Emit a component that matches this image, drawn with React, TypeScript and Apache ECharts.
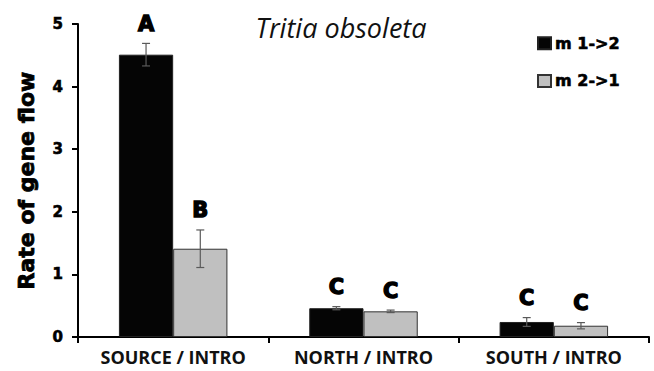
import React, { useEffect, useRef } from "react";
import * as echarts from "echarts";

const categories = ["SOURCE / INTRO", "NORTH / INTRO", "SOUTH / INTRO"];
const seriesNames = ["m 1->2", "m 2->1"];
const m12 = [4.51, 0.46, 0.24];
const m21 = [1.41, 0.41, 0.18];
const m12Err = [0.18, 0.025, 0.07];
const m21Err = [0.3, 0.02, 0.05];
const m12Letters = ["A", "C", "C"];
const m21Letters = ["B", "C", "C"];
const yTicks = [0, 1, 2, 3, 4, 5];

const BAR_FRAC = 0.285;

function errSeries(vals: number[], errs: number[], letters: string[], side: number) {
  return {
    type: "custom",
    z: 5,
    clip: false,
    data: vals.map((v, i) => [i, v, errs[i], letters[i]]),
    encode: { x: 0, y: 1 },
    renderItem: (params: any, api: any) => {
      const idx = api.value(0);
      const v = api.value(1);
      const e = api.value(2);
      const letter = letters[params.dataIndex];
      const catW = api.size([1, 0])[0];
      const bw = catW * BAR_FRAC;
      const c = api.coord([idx, v]);
      const x = c[0] + side * bw / 2;
      const top = api.coord([idx, v + e])[1];
      const bot = api.coord([idx, v - e])[1];
      const cap = 4;
      const st = { stroke: "#5a5a5a", lineWidth: 1.2 };
      return {
        type: "group",
        children: [
          { type: "line", shape: { x1: x, y1: top, x2: x, y2: bot }, style: st },
          { type: "line", shape: { x1: x - cap, y1: top, x2: x + cap, y2: top }, style: st },
          { type: "line", shape: { x1: x - cap, y1: bot, x2: x + cap, y2: bot }, style: st },
          {
            type: "text",
            x: x,
            y: top - 9,
            style: {
              text: letter,
              fill: "#000",
              stroke: "#000",
              lineWidth: 1.4,
              font: "bold 21px 'DejaVu Sans'",
              textAlign: "center",
              textVerticalAlign: "bottom",
            },
          },
        ],
      };
    },
  };
}

export default function App() {
  const ref = useRef<HTMLDivElement>(null);
  useEffect(() => {
    if (!ref.current) return;
    const chart = echarts.init(ref.current, null, { renderer: "svg" });
    chart.setOption({
      animation: false,
      backgroundColor: "#fff",
      title: {
        text: "Tritia obsoleta",
        left: 336,
        top: 9,
        textAlign: "center",
        textStyle: {
          fontFamily: "Open Sans",
          fontStyle: "italic",
          fontWeight: "normal",
          fontSize: 27,
          color: "#111",
        },
      },
      legend: {
        orient: "vertical",
        left: 537,
        top: 35,
        padding: 0,
        itemWidth: 13,
        itemHeight: 12,
        itemGap: 21,
        icon: "rect",
        data: seriesNames,
        textStyle: {
          fontFamily: "DejaVu Sans",
          fontWeight: "bold",
          fontSize: 16,
          lineHeight: 16,
          color: "#000",
          textBorderColor: "#000",
          textBorderWidth: 0.6,
          padding: [0, 0, 0, -1],
        },
      },
      grid: { left: 78, right: 5, top: 24, bottom: 34 },
      xAxis: {
        type: "category",
        data: categories,
        axisLine: { lineStyle: { color: "#000", width: 2 } },
        axisTick: { show: true, length: 6, alignWithLabel: false, lineStyle: { color: "#000", width: 2 } },
        axisLabel: {
          margin: 11,
          fontFamily: "Open Sans",
          fontWeight: "bold",
          fontSize: 18,
          color: "#111",
        },
      },
      yAxis: {
        type: "value",
        min: yTicks[0],
        max: yTicks[yTicks.length - 1],
        interval: 1,
        name: "Rate of gene flow",
        nameLocation: "middle",
        nameGap: 41,
        nameTextStyle: {
          fontFamily: "DejaVu Sans",
          fontWeight: "bold",
          fontSize: 22,
          color: "#000",
          textBorderColor: "#000",
          textBorderWidth: 0.8,
        },
        splitLine: { show: false },
        axisLine: { show: true, lineStyle: { color: "#000", width: 2 } },
        axisTick: { show: true, length: 6, lineStyle: { color: "#000", width: 2 } },
        axisLabel: {
          margin: 15,
          fontFamily: "DejaVu Sans",
          fontWeight: "bold",
          fontSize: 15,
          color: "#000",
          textBorderColor: "#000",
          textBorderWidth: 0.6,
        },
      },
      series: [
        {
          name: seriesNames[0],
          type: "bar",
          data: m12,
          barWidth: (BAR_FRAC * 100) + "%",
          barGap: "0%",
          itemStyle: { color: "#050505", borderColor: "#222", borderWidth: 1 },
        },
        {
          name: seriesNames[1],
          type: "bar",
          data: m21,
          barWidth: (BAR_FRAC * 100) + "%",
          barGap: "0%",
          itemStyle: { color: "#c0c0c0", borderColor: "#333", borderWidth: 1 },
        },
        errSeries(m12, m12Err, m12Letters, -1),
        errSeries(m21, m21Err, m21Letters, 1),
      ],
    });
    return () => chart.dispose();
  }, []);
  return (
    <div
      ref={ref}
      style={{ position: "fixed", left: 0, top: 0, width: 654, height: 371 }}
    />
  );
}
